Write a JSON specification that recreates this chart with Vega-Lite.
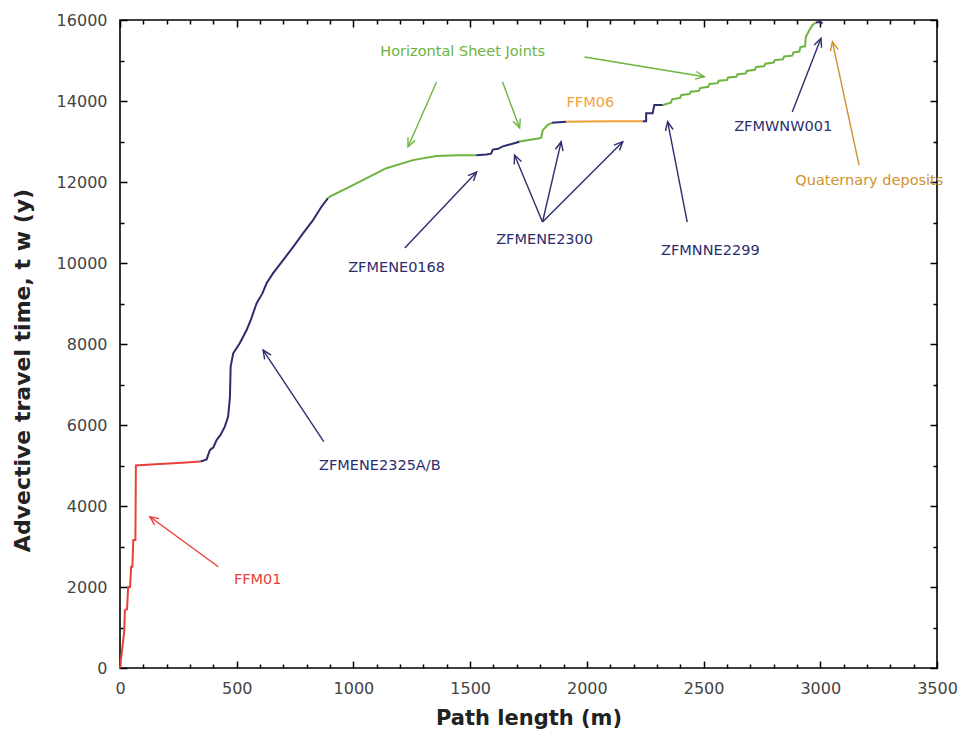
{
  "$schema": "https://vega.github.io/schema/vega-lite/v6.json",
  "autosize": {"type": "none"},
  "padding": {"left": 120, "top": 20, "right": 21, "bottom": 65},
  "width": 817,
  "height": 648,
  "background": "white",
  "config": {
    "view": {"stroke": "#000", "strokeWidth": 1.6},
    "axis": {
      "grid": false,
      "domain": false,
      "tickColor": "#000",
      "tickWidth": 1.5,
      "labelFlush": false,
      "labelFont": "DejaVu Sans",
      "labelFontSize": 16,
      "labelColor": "#444",
      "titleFont": "DejaVu Sans",
      "titleFontSize": 21,
      "titleFontWeight": "bold",
      "titleColor": "#222"
    },
    "text": {"font": "DejaVu Sans"}
  },
  "datasets": {
    "curve": [
      {"i": 1, "d": 0, "t": 0, "zone": "FFM01", "seg": 1},
      {"i": 2, "d": 8, "t": 400, "zone": "FFM01", "seg": 1},
      {"i": 3, "d": 18, "t": 900, "zone": "FFM01", "seg": 1},
      {"i": 4, "d": 21, "t": 1430, "zone": "FFM01", "seg": 1},
      {"i": 5, "d": 30, "t": 1450, "zone": "FFM01", "seg": 1},
      {"i": 6, "d": 35, "t": 2000, "zone": "FFM01", "seg": 1},
      {"i": 7, "d": 43, "t": 2000, "zone": "FFM01", "seg": 1},
      {"i": 8, "d": 48, "t": 2500, "zone": "FFM01", "seg": 1},
      {"i": 9, "d": 53, "t": 2500, "zone": "FFM01", "seg": 1},
      {"i": 10, "d": 57, "t": 3160, "zone": "FFM01", "seg": 1},
      {"i": 11, "d": 66, "t": 3160, "zone": "FFM01", "seg": 1},
      {"i": 12, "d": 68, "t": 5000, "zone": "FFM01", "seg": 1},
      {"i": 13, "d": 150, "t": 5030, "zone": "FFM01", "seg": 1},
      {"i": 14, "d": 250, "t": 5060, "zone": "FFM01", "seg": 1},
      {"i": 15, "d": 345, "t": 5100, "zone": "FFM01", "seg": 1},
      {"i": 16, "d": 345, "t": 5100, "zone": "Deformation zone", "seg": 2},
      {"i": 17, "d": 371, "t": 5150, "zone": "Deformation zone", "seg": 2},
      {"i": 18, "d": 385, "t": 5380, "zone": "Deformation zone", "seg": 2},
      {"i": 19, "d": 400, "t": 5450, "zone": "Deformation zone", "seg": 2},
      {"i": 20, "d": 414, "t": 5630, "zone": "Deformation zone", "seg": 2},
      {"i": 21, "d": 430, "t": 5750, "zone": "Deformation zone", "seg": 2},
      {"i": 22, "d": 449, "t": 5960, "zone": "Deformation zone", "seg": 2},
      {"i": 23, "d": 463, "t": 6200, "zone": "Deformation zone", "seg": 2},
      {"i": 24, "d": 468, "t": 6500, "zone": "Deformation zone", "seg": 2},
      {"i": 25, "d": 471, "t": 6700, "zone": "Deformation zone", "seg": 2},
      {"i": 26, "d": 474, "t": 7440, "zone": "Deformation zone", "seg": 2},
      {"i": 27, "d": 485, "t": 7770, "zone": "Deformation zone", "seg": 2},
      {"i": 28, "d": 513, "t": 8020, "zone": "Deformation zone", "seg": 2},
      {"i": 29, "d": 542, "t": 8340, "zone": "Deformation zone", "seg": 2},
      {"i": 30, "d": 560, "t": 8590, "zone": "Deformation zone", "seg": 2},
      {"i": 31, "d": 585, "t": 9000, "zone": "Deformation zone", "seg": 2},
      {"i": 32, "d": 610, "t": 9250, "zone": "Deformation zone", "seg": 2},
      {"i": 33, "d": 628, "t": 9500, "zone": "Deformation zone", "seg": 2},
      {"i": 34, "d": 656, "t": 9750, "zone": "Deformation zone", "seg": 2},
      {"i": 35, "d": 699, "t": 10070, "zone": "Deformation zone", "seg": 2},
      {"i": 36, "d": 742, "t": 10400, "zone": "Deformation zone", "seg": 2},
      {"i": 37, "d": 784, "t": 10730, "zone": "Deformation zone", "seg": 2},
      {"i": 38, "d": 827, "t": 11060, "zone": "Deformation zone", "seg": 2},
      {"i": 39, "d": 863, "t": 11390, "zone": "Deformation zone", "seg": 2},
      {"i": 40, "d": 891, "t": 11600, "zone": "Deformation zone", "seg": 2},
      {"i": 41, "d": 891, "t": 11600, "zone": "Sheet joint", "seg": 3},
      {"i": 42, "d": 899, "t": 11640, "zone": "Sheet joint", "seg": 3},
      {"i": 43, "d": 998, "t": 11925, "zone": "Sheet joint", "seg": 3},
      {"i": 44, "d": 1141, "t": 12340, "zone": "Sheet joint", "seg": 3},
      {"i": 45, "d": 1255, "t": 12540, "zone": "Sheet joint", "seg": 3},
      {"i": 46, "d": 1355, "t": 12640, "zone": "Sheet joint", "seg": 3},
      {"i": 47, "d": 1450, "t": 12660, "zone": "Sheet joint", "seg": 3},
      {"i": 48, "d": 1526, "t": 12660, "zone": "Sheet joint", "seg": 3},
      {"i": 49, "d": 1526, "t": 12660, "zone": "Deformation zone", "seg": 4},
      {"i": 50, "d": 1569, "t": 12680, "zone": "Deformation zone", "seg": 4},
      {"i": 51, "d": 1590, "t": 12700, "zone": "Deformation zone", "seg": 4},
      {"i": 52, "d": 1597, "t": 12800, "zone": "Deformation zone", "seg": 4},
      {"i": 53, "d": 1620, "t": 12820, "zone": "Deformation zone", "seg": 4},
      {"i": 54, "d": 1640, "t": 12880, "zone": "Deformation zone", "seg": 4},
      {"i": 55, "d": 1697, "t": 12970, "zone": "Deformation zone", "seg": 4},
      {"i": 56, "d": 1712, "t": 13000, "zone": "Deformation zone", "seg": 4},
      {"i": 57, "d": 1712, "t": 13000, "zone": "Sheet joint", "seg": 5},
      {"i": 58, "d": 1797, "t": 13080, "zone": "Sheet joint", "seg": 5},
      {"i": 59, "d": 1805, "t": 13100, "zone": "Sheet joint", "seg": 5},
      {"i": 60, "d": 1811, "t": 13280, "zone": "Sheet joint", "seg": 5},
      {"i": 61, "d": 1833, "t": 13410, "zone": "Sheet joint", "seg": 5},
      {"i": 62, "d": 1850, "t": 13460, "zone": "Sheet joint", "seg": 5},
      {"i": 63, "d": 1850, "t": 13460, "zone": "Deformation zone", "seg": 6},
      {"i": 64, "d": 1911, "t": 13490, "zone": "Deformation zone", "seg": 6},
      {"i": 65, "d": 1911, "t": 13490, "zone": "FFM06", "seg": 7},
      {"i": 66, "d": 2000, "t": 13495, "zone": "FFM06", "seg": 7},
      {"i": 67, "d": 2100, "t": 13500, "zone": "FFM06", "seg": 7},
      {"i": 68, "d": 2239, "t": 13500, "zone": "FFM06", "seg": 7},
      {"i": 69, "d": 2239, "t": 13500, "zone": "Deformation zone", "seg": 8},
      {"i": 70, "d": 2254, "t": 13500, "zone": "Deformation zone", "seg": 8},
      {"i": 71, "d": 2254, "t": 13700, "zone": "Deformation zone", "seg": 8},
      {"i": 72, "d": 2282, "t": 13700, "zone": "Deformation zone", "seg": 8},
      {"i": 73, "d": 2289, "t": 13900, "zone": "Deformation zone", "seg": 8},
      {"i": 74, "d": 2325, "t": 13900, "zone": "Deformation zone", "seg": 8},
      {"i": 75, "d": 2325, "t": 13900, "zone": "Sheet joint", "seg": 9},
      {"i": 76, "d": 2360, "t": 13960, "zone": "Sheet joint", "seg": 9},
      {"i": 77, "d": 2365, "t": 14040, "zone": "Sheet joint", "seg": 9},
      {"i": 78, "d": 2400, "t": 14080, "zone": "Sheet joint", "seg": 9},
      {"i": 79, "d": 2405, "t": 14150, "zone": "Sheet joint", "seg": 9},
      {"i": 80, "d": 2440, "t": 14170, "zone": "Sheet joint", "seg": 9},
      {"i": 81, "d": 2445, "t": 14230, "zone": "Sheet joint", "seg": 9},
      {"i": 82, "d": 2480, "t": 14250, "zone": "Sheet joint", "seg": 9},
      {"i": 83, "d": 2485, "t": 14320, "zone": "Sheet joint", "seg": 9},
      {"i": 84, "d": 2520, "t": 14350, "zone": "Sheet joint", "seg": 9},
      {"i": 85, "d": 2525, "t": 14420, "zone": "Sheet joint", "seg": 9},
      {"i": 86, "d": 2560, "t": 14440, "zone": "Sheet joint", "seg": 9},
      {"i": 87, "d": 2565, "t": 14500, "zone": "Sheet joint", "seg": 9},
      {"i": 88, "d": 2600, "t": 14520, "zone": "Sheet joint", "seg": 9},
      {"i": 89, "d": 2605, "t": 14580, "zone": "Sheet joint", "seg": 9},
      {"i": 90, "d": 2640, "t": 14600, "zone": "Sheet joint", "seg": 9},
      {"i": 91, "d": 2645, "t": 14660, "zone": "Sheet joint", "seg": 9},
      {"i": 92, "d": 2680, "t": 14680, "zone": "Sheet joint", "seg": 9},
      {"i": 93, "d": 2685, "t": 14740, "zone": "Sheet joint", "seg": 9},
      {"i": 94, "d": 2720, "t": 14770, "zone": "Sheet joint", "seg": 9},
      {"i": 95, "d": 2725, "t": 14840, "zone": "Sheet joint", "seg": 9},
      {"i": 96, "d": 2760, "t": 14860, "zone": "Sheet joint", "seg": 9},
      {"i": 97, "d": 2765, "t": 14920, "zone": "Sheet joint", "seg": 9},
      {"i": 98, "d": 2800, "t": 14950, "zone": "Sheet joint", "seg": 9},
      {"i": 99, "d": 2805, "t": 15010, "zone": "Sheet joint", "seg": 9},
      {"i": 100, "d": 2840, "t": 15030, "zone": "Sheet joint", "seg": 9},
      {"i": 101, "d": 2845, "t": 15100, "zone": "Sheet joint", "seg": 9},
      {"i": 102, "d": 2880, "t": 15120, "zone": "Sheet joint", "seg": 9},
      {"i": 103, "d": 2885, "t": 15200, "zone": "Sheet joint", "seg": 9},
      {"i": 104, "d": 2910, "t": 15220, "zone": "Sheet joint", "seg": 9},
      {"i": 105, "d": 2915, "t": 15330, "zone": "Sheet joint", "seg": 9},
      {"i": 106, "d": 2935, "t": 15350, "zone": "Sheet joint", "seg": 9},
      {"i": 107, "d": 2938, "t": 15580, "zone": "Sheet joint", "seg": 9},
      {"i": 108, "d": 2953, "t": 15750, "zone": "Sheet joint", "seg": 9},
      {"i": 109, "d": 2967, "t": 15880, "zone": "Sheet joint", "seg": 9},
      {"i": 110, "d": 2981, "t": 15940, "zone": "Sheet joint", "seg": 9},
      {"i": 111, "d": 2981, "t": 15940, "zone": "Deformation zone", "seg": 10},
      {"i": 112, "d": 2995, "t": 15950, "zone": "Deformation zone", "seg": 10},
      {"i": 113, "d": 3010, "t": 15920, "zone": "Deformation zone", "seg": 10}
    ],
    "arrows": [
      {"x1": 421, "y1": 2501, "x2": 128, "y2": 3736, "zone": "FFM01"},
      {"x1": 873, "y1": 5587, "x2": 613, "y2": 7851, "zone": "Deformation zone"},
      {"x1": 1220, "y1": 10370, "x2": 1528, "y2": 12246, "zone": "Deformation zone"},
      {"x1": 1810, "y1": 11012, "x2": 1690, "y2": 12666, "zone": "Deformation zone"},
      {"x1": 1810, "y1": 11012, "x2": 1890, "y2": 12995, "zone": "Deformation zone"},
      {"x1": 1810, "y1": 11012, "x2": 2154, "y2": 12995, "zone": "Deformation zone"},
      {"x1": 1356, "y1": 14468, "x2": 1234, "y2": 12871, "zone": "Sheet joint"},
      {"x1": 1639, "y1": 14468, "x2": 1712, "y2": 13333, "zone": "Sheet joint"},
      {"x1": 1990, "y1": 15086, "x2": 2503, "y2": 14599, "zone": "Sheet joint"},
      {"x1": 2430, "y1": 11012, "x2": 2346, "y2": 13488, "zone": "Deformation zone"},
      {"x1": 2880, "y1": 13727, "x2": 3003, "y2": 15547, "zone": "Deformation zone"},
      {"x1": 3166, "y1": 12419, "x2": 3052, "y2": 15463, "zone": "Quaternary deposits"}
    ],
    "labels": [
      {"d": 590, "t": 2173, "label": "FFM01", "zone": "FFM01"},
      {"d": 1113, "t": 4988, "label": "ZFMENE2325A/B", "zone": "Deformation zone"},
      {"d": 1185, "t": 9876, "label": "ZFMENE0168", "zone": "Deformation zone"},
      {"d": 1819, "t": 10568, "label": "ZFMENE2300", "zone": "Deformation zone"},
      {"d": 2529, "t": 10296, "label": "ZFMNNE2299", "zone": "Deformation zone"},
      {"d": 2841, "t": 13357, "label": "ZFMWNW001", "zone": "Deformation zone"},
      {"d": 2015, "t": 13950, "label": "FFM06", "zone": "FFM06"},
      {"d": 1468, "t": 15209, "label": "Horizontal Sheet Joints", "zone": "Sheet joint"},
      {"d": 3210, "t": 12024, "label": "Quaternary deposits", "zone": "Quaternary deposits"}
    ]
  },
  "resolve": {"axis": {"x": "independent", "y": "independent"}},
  "layer": [
    {
      "data": {"name": "curve"},
      "mark": {"type": "line", "strokeWidth": 2},
      "encoding": {
        "x": {"field": "d", "type": "quantitative", "scale": {"domain": [0, 3500], "nice": false},
          "axis": {"orient": "bottom", "title": "Path length (m)", "format": "d", "values": [0, 500, 1000, 1500, 2000, 2500, 3000, 3500], "offset": -7, "tickSize": 7, "labelPadding": 12, "titleY": 57, "titleBaseline": "middle"}},
        "y": {"field": "t", "type": "quantitative", "scale": {"domain": [0, 16000], "nice": false},
          "axis": {"orient": "left", "title": "Advective travel time, t w (y)", "format": "d", "values": [0, 2000, 4000, 6000, 8000, 10000, 12000, 14000, 16000], "offset": -7, "tickSize": 7, "labelPadding": 13, "titleFontSize": 22, "titleX": -105, "titleY": 350, "titleAlign": "center", "titleBaseline": "middle"}},
        "color": {"field": "zone", "type": "nominal", "legend": null,
          "scale": {"domain": ["FFM01", "Deformation zone", "Sheet joint", "FFM06", "Quaternary deposits"], "range": ["#e8403a", "#2d2d6e", "#6cb43f", "#f3a13c", "#cf922f"]}},
        "detail": {"field": "seg", "type": "nominal"},
        "order": {"field": "i", "type": "quantitative"}
      }
    },
    {
      "data": {"name": "arrows"},
      "mark": {"type": "rule", "strokeWidth": 1.4},
      "encoding": {
        "x": {"field": "x1", "type": "quantitative", "scale": {"domain": [0, 3500], "nice": false},
          "axis": {"orient": "top", "title": null, "labels": false, "values": [0, 500, 1000, 1500, 2000, 2500, 3000, 3500], "offset": -7, "tickSize": 7}},
        "x2": {"field": "x2"},
        "y": {"field": "y1", "type": "quantitative", "scale": {"domain": [0, 16000], "nice": false},
          "axis": {"orient": "right", "title": null, "labels": false, "values": [0, 2000, 4000, 6000, 8000, 10000, 12000, 14000, 16000], "offset": -7, "tickSize": 7}},
        "y2": {"field": "y2"},
        "color": {"field": "zone", "type": "nominal", "legend": null,
          "scale": {"domain": ["FFM01", "Deformation zone", "Sheet joint", "FFM06", "Quaternary deposits"], "range": ["#e8403a", "#2d2d6e", "#6cb43f", "#f3a13c", "#cf922f"]}}
      }
    },
    {
      "data": {"name": "arrows"},
      "transform": [
        {"calculate": "atan2((datum.x2 - datum.x1) * 817 / 3500, (datum.y2 - datum.y1) * 648 / 16000) * 180 / PI", "as": "ang"}
      ],
      "mark": {"type": "point", "shape": "M-0.45,1L0,0L0.45,1", "filled": false, "size": 300, "strokeWidth": 1.4, "opacity": 1},
      "encoding": {
        "x": {"field": "x2", "type": "quantitative", "scale": {"domain": [0, 3500], "nice": false},
          "axis": {"orient": "bottom", "title": null, "labels": false, "values": [100, 200, 300, 400, 600, 700, 800, 900, 1100, 1200, 1300, 1400, 1600, 1700, 1800, 1900, 2100, 2200, 2300, 2400, 2600, 2700, 2800, 2900, 3100, 3200, 3300, 3400], "offset": -4, "tickSize": 4}},
        "y": {"field": "y2", "type": "quantitative", "scale": {"domain": [0, 16000], "nice": false},
          "axis": {"orient": "left", "title": null, "labels": false, "values": [1000, 3000, 5000, 7000, 9000, 11000, 13000, 15000], "offset": -4, "tickSize": 4}},
        "angle": {"field": "ang", "type": "quantitative", "scale": null},
        "color": {"field": "zone", "type": "nominal", "legend": null,
          "scale": {"domain": ["FFM01", "Deformation zone", "Sheet joint", "FFM06", "Quaternary deposits"], "range": ["#e8403a", "#2d2d6e", "#6cb43f", "#f3a13c", "#cf922f"]}}
      }
    },
    {
      "data": {"name": "labels"},
      "mark": {"type": "text", "fontSize": 14.5, "align": "center", "baseline": "middle"},
      "encoding": {
        "x": {"field": "d", "type": "quantitative", "scale": {"domain": [0, 3500], "nice": false},
          "axis": {"orient": "top", "title": null, "labels": false, "values": [100, 200, 300, 400, 600, 700, 800, 900, 1100, 1200, 1300, 1400, 1600, 1700, 1800, 1900, 2100, 2200, 2300, 2400, 2600, 2700, 2800, 2900, 3100, 3200, 3300, 3400], "offset": -4, "tickSize": 4}},
        "y": {"field": "t", "type": "quantitative", "scale": {"domain": [0, 16000], "nice": false},
          "axis": {"orient": "right", "title": null, "labels": false, "values": [1000, 3000, 5000, 7000, 9000, 11000, 13000, 15000], "offset": -4, "tickSize": 4}},
        "text": {"field": "label", "type": "nominal"},
        "color": {"field": "zone", "type": "nominal", "legend": null,
          "scale": {"domain": ["FFM01", "Deformation zone", "Sheet joint", "FFM06", "Quaternary deposits"], "range": ["#e8403a", "#2d2d6e", "#6cb43f", "#f3a13c", "#cf922f"]}}
      }
    }
  ]
}
